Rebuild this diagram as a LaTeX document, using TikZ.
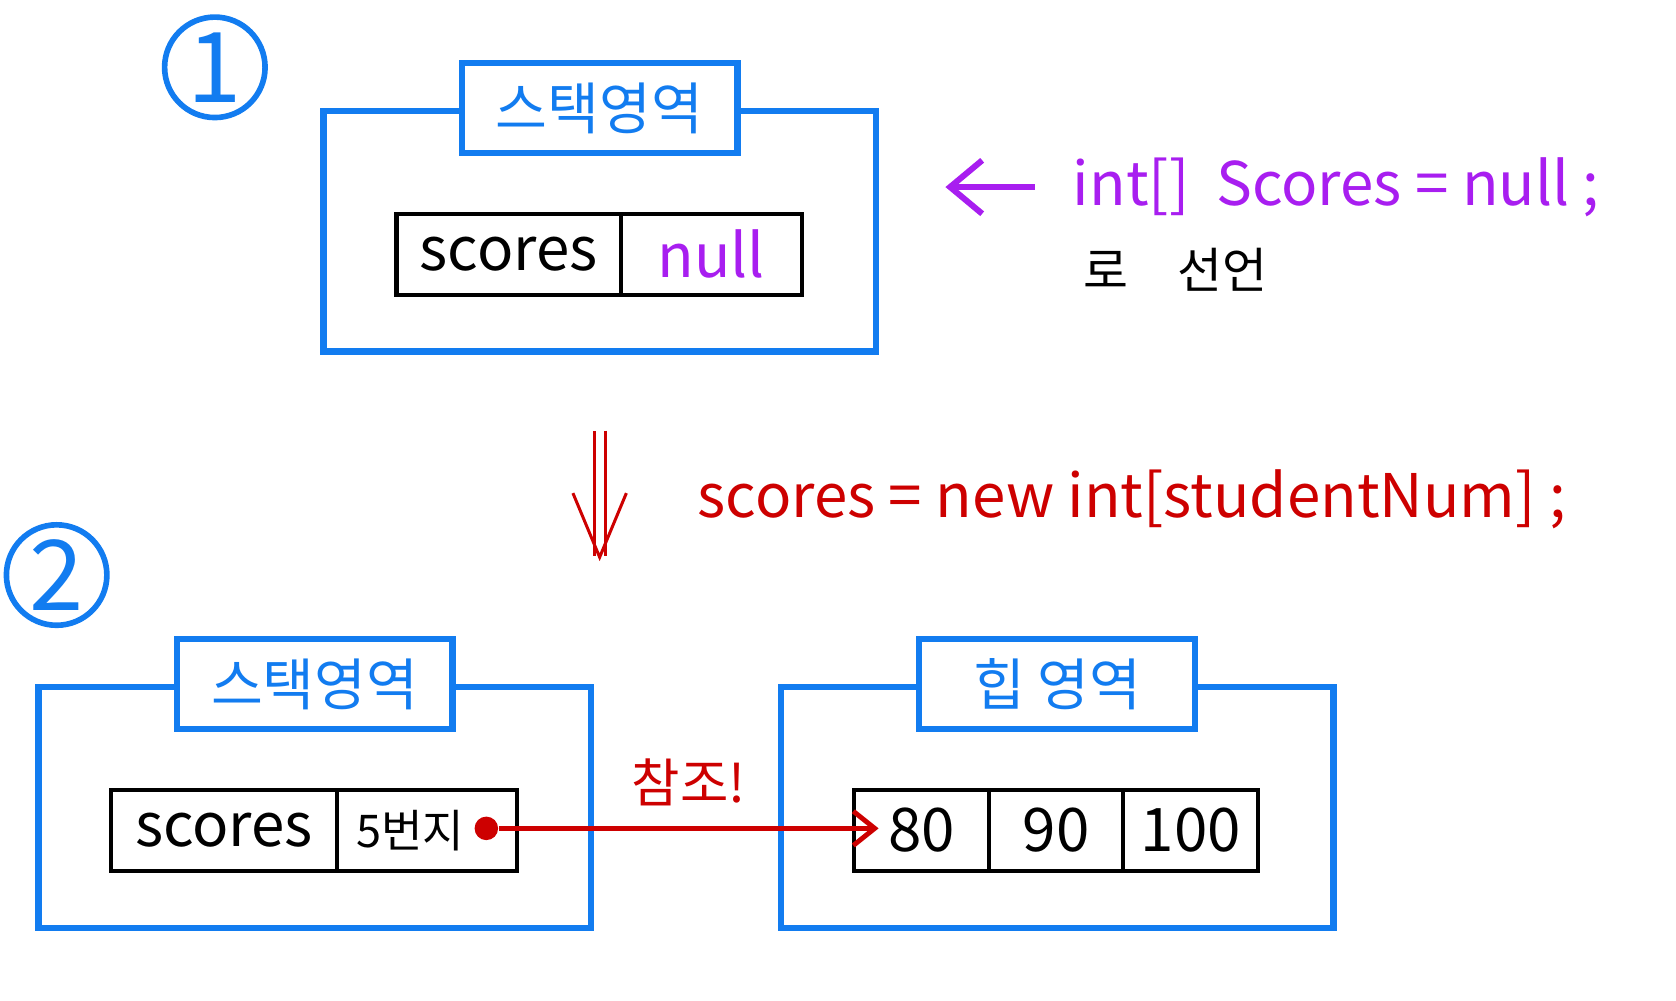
\documentclass[tikz,border=0pt]{standalone}
\usepackage{fontspec}
\setmainfont{Noto Sans CJK KR}
\usetikzlibrary{positioning,arrows.meta,calc}
\definecolor{memblue}{RGB}{18,124,240}
\definecolor{codepurple}{RGB}{168,30,240}
\definecolor{refred}{RGB}{205,0,0}

\begin{document}
\begin{tikzpicture}[
  every node/.style={font=\fontsize{14}{16}\selectfont},
  area/.style={rectangle, draw=memblue, line width=1.7pt,
               minimum width=5.17cm, minimum height=2.25cm},
  areatitle/.style={rectangle, draw=memblue, fill=white, line width=1.7pt,
                    minimum width=2.58cm, minimum height=0.84cm,
                    text=memblue, font=\fontsize{15}{17}\selectfont},
  cell/.style={rectangle, draw, line width=1.1pt, minimum height=0.76cm,
               outer sep=0pt, inner sep=0pt, font=\fontsize{16}{18}\selectfont},
  stepnum/.style={circle, draw=memblue, line width=1.5pt, minimum size=0.94cm,
                  inner sep=0pt, text=memblue, font=\fontsize{26}{28}\selectfont},
  code/.style={anchor=west, inner sep=0pt, font=\fontsize{16}{19}\selectfont},
  parr/.style={-{Straight Barb[length=3mm, width=5mm]}, draw=codepurple, line width=1.6pt},
  rarr/.style={-{Straight Barb[length=2mm, width=3.2mm]}, draw=refred, line width=1.3pt},
  darr/.style={-{Straight Barb[length=6mm, width=5mm]}, draw=refred,
               line width=0.8pt, double, double distance=2.2pt}
]
\useasboundingbox (0,0) rectangle (15.68,9.36);

% Step 1: the reference is declared and holds null.
\node[stepnum] (num1) at (2.01,8.73) {1};
\node[area] (stack1) at (5.61,7.195) {};
\node[areatitle] (title1) at (stack1.north) {스택영역};
\node[cell, minimum width=2.10cm, anchor=west] (S1name) at (3.71,6.98) {scores};
\node[cell, minimum width=1.69cm, right=0pt of S1name, text=codepurple] (S1val) {null};

\node[code, text=codepurple] (decl) at (10.03,7.61) {int[]\ \ Scores = null ;};
\node[code, font=\fontsize{13}{16}\selectfont] (declnote) at (10.13,6.84) {로\quad 선언};
\draw[parr] (decl.west) -- (decl.west -| stack1.east)
  [shorten <=0.35cm, shorten >=0.62cm];

% Step 2: the array is created on the heap.
\draw[darr, shorten <=0.71cm, shorten >=0.77cm] (stack1.south) -- (stack1.south |- 0,3.34);
\node[code, text=refred] (alloc) at (6.52,4.69) {scores = new int[studentNum] ;};

\node[stepnum] (num2) at (0.53,3.98) {2};
\node[area] (stack2) at (2.945,1.805) {};
\node[areatitle] (title2) at (stack2.north) {스택영역};
\node[cell, minimum width=2.11cm, anchor=west] (S2name) at (1.04,1.59) {scores};
\node[cell, minimum width=1.69cm, text width=1.32cm, align=left,
      font=\fontsize{12}{14}\selectfont, right=0pt of S2name] (S2val) {5번지};

\node[area] (heap) at (9.89,1.805) {};
\node[areatitle] (title3) at (heap.north) {힙 영역};
\foreach \v [count=\i] in {80,90,100}
  \node[cell, minimum width=1.26cm] (H\i) at ({8.62+(\i-1)*1.26},1.59) {\v};

% The stack slot points at the first heap cell.
\node[circle, fill=refred, inner sep=0pt, minimum size=2.2mm] (ptr) at (4.55,1.61) {};
\draw[rarr] (ptr) -- node[above=2pt, text=refred] {참조!} ([xshift=2.3mm]H1.west |- ptr);

\end{tikzpicture}
\end{document}
